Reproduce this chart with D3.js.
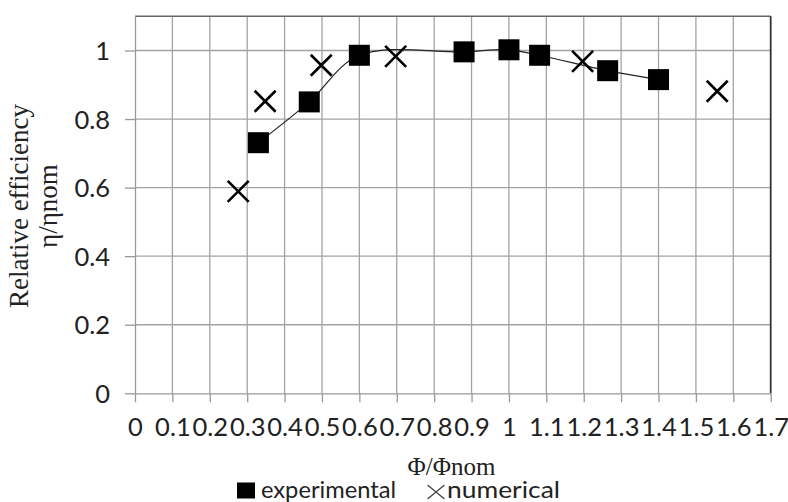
<!DOCTYPE html>
<html>
<head>
<meta charset="utf-8">
<script src="https://cdn.jsdelivr.net/npm/d3@7"></script>
<style>
  html, body { margin: 0; padding: 0; background: #fff; }
  svg { display: block; }
</style>
</head>
<body>
<svg id="chart" width="788" height="502"></svg>
<script>
// ---- data ----
const expX = [0.33, 0.466, 0.6, 0.88, 1.0, 1.082, 1.264, 1.4];
const expY = [0.731, 0.85, 0.986, 0.996, 1.002, 0.986, 0.941, 0.915];
const numX = [0.276, 0.348, 0.498, 0.697, 1.197, 1.557];
const numY = [0.589, 0.852, 0.957, 0.983, 0.968, 0.881];
const xTicks = [0, 0.1, 0.2, 0.3, 0.4, 0.5, 0.6, 0.7, 0.8, 0.9, 1, 1.1, 1.2, 1.3, 1.4, 1.5, 1.6, 1.7];
const xTickLabels = ["0", "0.1", "0.2", "0.3", "0.4", "0.5", "0.6", "0.7", "0.8", "0.9", "1", "1.1", "1.2", "1.3", "1.4", "1.5", "1.6", "1.7"];
const yTicks = [0, 0.2, 0.4, 0.6, 0.8, 1];
const yTickLabels = ["0", "0.2", "0.4", "0.6", "0.8", "1"];
const seriesNames = ["experimental", "numerical"];
const xTitle = "Φ/Φnom";
const yTitle = ["Relative efficiency", "η/ηnom"];

// ---- layout ----
const svg = d3.select("#chart");
const L = 135, R = 770.7, T = 16.2, B = 393.3;
const x = d3.scaleLinear().domain([0, 1.7]).range([L, R]);
const y = d3.scaleLinear().domain([0, 1.1]).range([B, T]);
const sansFont = "Lato, 'Open Sans', sans-serif";
const serifFont = "'Liberation Serif', 'DejaVu Serif', serif";

// gridlines
const grid = svg.append("g");
grid.selectAll("line.v").data(xTicks.filter(d => d > 0 && d < 1.7)).enter().append("line")
  .attr("x1", d => x(d)).attr("x2", d => x(d)).attr("y1", T).attr("y2", B)
  .attr("stroke", "#a3a3a3").attr("stroke-width", 1.3);
grid.selectAll("line.h").data(yTicks.filter(d => d > 0)).enter().append("line")
  .attr("x1", L).attr("x2", R).attr("y1", d => y(d)).attr("y2", d => y(d))
  .attr("stroke", "#a3a3a3").attr("stroke-width", 1.3);

// plot border: top and right
svg.append("line").attr("x1", L).attr("x2", R).attr("y1", T).attr("y2", T)
  .attr("stroke", "#666").attr("stroke-width", 1.5);
svg.append("line").attr("x1", R).attr("x2", R).attr("y1", T).attr("y2", B)
  .attr("stroke", "#333").attr("stroke-width", 1.8);

// axes
const xAxis = d3.axisBottom(x).tickValues(xTicks).tickSize(9).tickSizeOuter(0)
  .tickFormat((d, i) => xTickLabels[i]);
const gx = svg.append("g").attr("transform", `translate(0,${B})`).call(xAxis);
gx.select(".domain").attr("stroke", "#999").attr("stroke-width", 1.3);
gx.selectAll(".tick line").attr("stroke", "#999").attr("stroke-width", 1.3);
gx.selectAll(".tick text").attr("font-family", sansFont).attr("font-size", 25.5)
  .attr("fill", "#222").attr("y", 0).attr("dy", 0)
  .attr("transform", "translate(0,42.7)");

const yAxis = d3.axisLeft(y).tickValues(yTicks).tickSize(10).tickSizeOuter(0)
  .tickFormat((d, i) => yTickLabels[i]);
const gy = svg.append("g").attr("transform", `translate(${L},0)`).call(yAxis);
gy.select(".domain").attr("stroke", "#999").attr("stroke-width", 1.3)
  .attr("d", `M0.5,${T}V${B}`);
gy.selectAll(".tick line").attr("stroke", "#999").attr("stroke-width", 1.3);
gy.selectAll(".tick text").attr("font-family", sansFont).attr("font-size", 25.5)
  .attr("fill", "#222").attr("x", -25).attr("dy", "0.36em");

// smoothed line through experimental points
const expPts = expX.map((v, i) => [v, expY[i]]);
const line = d3.line().x(d => x(d[0])).y(d => y(d[1])).curve(d3.curveCatmullRom.alpha(0.5));
svg.append("path").attr("d", line(expPts)).attr("fill", "none")
  .attr("stroke", "#222").attr("stroke-width", 1.2);

// experimental squares
const sq = 21;
svg.selectAll("rect.exp").data(expPts).enter().append("rect")
  .attr("x", d => x(d[0]) - sq / 2).attr("y", d => y(d[1]) - sq / 2)
  .attr("width", sq).attr("height", sq).attr("fill", "#000");

// numerical crosses
const numPts = numX.map((v, i) => [v, numY[i]]);
const h = 10.5;
const cross = svg.selectAll("g.num").data(numPts).enter().append("g")
  .attr("transform", d => `translate(${x(d[0])},${y(d[1])})`);
cross.append("path").attr("d", `M${-h},${-h}L${h},${h}M${-h},${h}L${h},${-h}`)
  .attr("stroke", "#000").attr("stroke-width", 2.6).attr("fill", "none");

// axis titles
svg.append("text").attr("x", 451.5).attr("y", 474.5).attr("text-anchor", "middle")
  .attr("font-family", serifFont).attr("font-size", 25).attr("fill", "#222").text(xTitle);
const yt = svg.append("text").attr("transform", "translate(0,206) rotate(-90)")
  .attr("text-anchor", "middle").attr("font-family", serifFont).attr("font-size", 27).attr("fill", "#222");
yt.append("tspan").attr("x", 0).attr("y", 28).text(yTitle[0]);
yt.append("tspan").attr("x", 0).attr("y", 57).text(yTitle[1]);

// legend
const lg = svg.append("g");
lg.append("rect").attr("x", 237).attr("y", 482.5).attr("width", 18).attr("height", 16).attr("fill", "#000");
lg.append("text").attr("x", 261).attr("y", 497.5).attr("font-family", sansFont).attr("font-size", 23.5)
  .attr("fill", "#222").attr("textLength", 135).attr("lengthAdjust", "spacingAndGlyphs").text(seriesNames[0]);
lg.append("path").attr("d", "M427.5,485L444.5,499M427.5,499L444.5,485")
  .attr("stroke", "#444").attr("stroke-width", 1.3).attr("fill", "none");
lg.append("text").attr("x", 447).attr("y", 497.5).attr("font-family", sansFont).attr("font-size", 23.5)
  .attr("fill", "#222").attr("textLength", 113).attr("lengthAdjust", "spacingAndGlyphs").text(seriesNames[1]);
</script>
</body>
</html>
